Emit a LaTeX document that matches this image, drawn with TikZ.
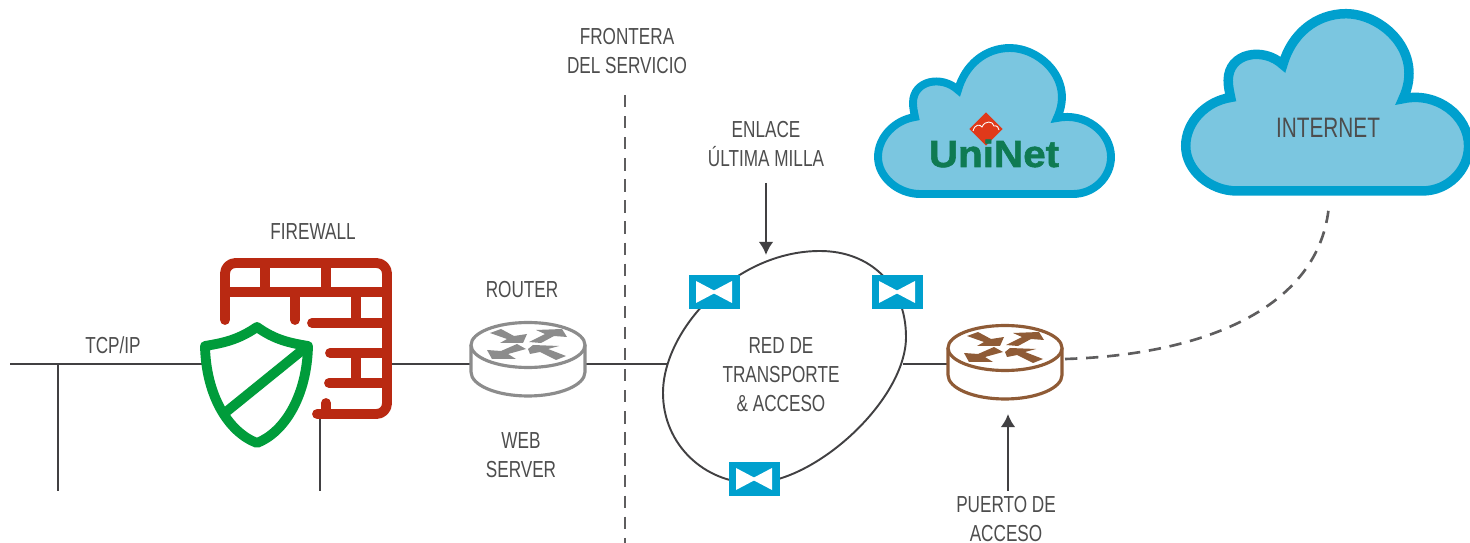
\documentclass[tikz,border=0pt]{standalone}
\usepackage{fontspec}
\setmainfont[FakeStretch=0.74]{Liberation Sans}
\newfontfamily\logofont[FakeStretch=1.07,FakeBold=1.5]{Liberation Sans}
\usetikzlibrary{arrows.meta,positioning}

\definecolor{linegray}{HTML}{414042}
\definecolor{textgray}{HTML}{4D4D4D}
\definecolor{wallred}{HTML}{B92912}
\definecolor{shieldgreen}{HTML}{009C3B}
\definecolor{cloudfill}{HTML}{7BC6E0}
\definecolor{cloudline}{HTML}{00A0CE}
\definecolor{routergray}{HTML}{8C8C8C}
\definecolor{routerbrown}{HTML}{8F5B36}
\definecolor{logogreen}{HTML}{0F7A52}
\definecolor{logored}{HTML}{E0391A}

\tikzset{
  label/.style = {text = textgray, align = center, font = \fontsize{13.2}{16.5}\selectfont, inner sep = 0pt},
  wire/.style = {draw = linegray, line width = 1.6pt},
  pointer/.style = {wire, -{Latex[length = 7.5pt, width = 8.5pt]}},
  dashwire/.style = {draw = linegray!85, line width = 1.5pt, dash pattern = on 7pt off 5pt},
  wall/.style = {draw = wallred, line width = 5.6pt, line cap = round, line join = round},
  gate/.style = {fill = cloudline, minimum width = 1.02cm, minimum height = 0.7cm, inner sep = 0pt,
    path picture = {\fill[white] (path picture bounding box.center) ++(-18,-11) -- ++(18,9.5) -- ++(18,-9.5) -- ++(0,22) -- ++(-18,-9.5) -- ++(-18,9.5) -- cycle;}},
  cloudicon/.pic = {
    \path[draw = cloudline, fill = cloudfill] (50,154) -- (203,154)
      .. controls (224,154) and (241,137) .. (241,117)
      .. controls (241,92) and (215,72) .. (187,78)
      .. controls (205,40) and (170,8) .. (140,8)
      .. controls (115,8) and (95,25) .. (88,50)
      .. controls (72,35) and (43,40) .. (43,63)
      .. controls (43,68) and (44,72) .. (45,77)
      .. controls (25,80) and (8,97) .. (8,117)
      .. controls (8,137) and (28,154) .. (50,154) -- cycle;
  },
  routericon/.pic = {
    \path[draw = #1, fill = white, line width = 1.8pt] (-57,0) -- (-57,27) arc[start angle = 180, end angle = 0, x radius = 57, y radius = 24] -- (57,0);
    \path[draw = #1, fill = white, line width = 1.8pt] (0,0) ellipse[x radius = 57, y radius = 22.5];
    \fill[#1] (-38,-12) -- (-27,-16) -- (-14,-9) -- (-1,-11) -- (-5,-2) -- (-28,-2) -- (-21,-6) -- cycle;
    \fill[#1] (1,-3) -- (17,-11) -- (8,-15) -- (34,-16) -- (39,-8) -- (26,-9) -- (13,-2) -- cycle;
    \fill[#1] (-2,4) -- (-20,9) -- (-12,14) -- (-36,14) -- (-41,5) -- (-27,6) -- (-11,-1) -- cycle;
    \fill[#1] (0,4) -- (5,0) -- (31,1) -- (20,4) -- (38,11) -- (28,15) -- (12,7) -- (2,9) -- cycle;
  },
}

\begin{document}
\begin{tikzpicture}[x = 0.02cm, y = -0.02cm]
\useasboundingbox (0,0) rectangle (1470,543);

% anchor points of the wires
\coordinate (lanW) at (10,364);
\coordinate (lanE) at (205,364);
\coordinate (tapA) at (58,364);
\coordinate (tapAend) at (58,491);
\coordinate (tapB) at (320,414);
\coordinate (tapBend) at (320,491);
\coordinate (wallE) at (390,364);
\coordinate (routerW) at (470,364);
\coordinate (routerE) at (586,364);
\coordinate (netW) at (668,364);
\coordinate (netE) at (903,364);
\coordinate (accessW) at (947,364);
\coordinate (accessE) at (1065,359);
\coordinate (inetS) at (1329,205);
\coordinate (borderN) at (625,95);
\coordinate (borderS) at (625,543);
\coordinate (linkN) at (766,183);
\coordinate (linkS) at (766,255);
\coordinate (portS) at (1008,491);
\coordinate (portN) at (1008,414);

\path[wire] (lanW) -- (lanE);
\path[wire] (tapA) -- (tapAend);
\path[wire] (tapB) -- (tapBend);
\path[wire] (wallE) -- (routerW);
\path[wire] (routerE) -- (netW);
\path[wire] (netE) -- (accessW);
\path[dashwire] (borderN) -- (borderS);
\path[dashwire] (accessE) .. controls (1200,355) and (1320,310) .. (inetS);

% firewall
\path[wall, rounded corners = 6pt] (225,320) -- (225,263) -- (387,263) -- (387,414) -- (317,414);
\path[wall] (225,292) -- (387,292);
\path[wall] (265,263) -- (265,292);
\path[wall] (326,263) -- (326,292);
\path[wall] (295,292) -- (295,320);
\path[wall] (356,292) -- (356,323);
\path[wall] (312,323) -- (387,323);
\path[wall] (330,353) -- (387,353);
\path[wall] (356,353) -- (356,383);
\path[wall] (329,383) -- (387,383);
\path[wall] (326,403) -- (326,414);

% shield
\path[draw = shieldgreen, fill = white, line width = 5.6pt, line join = round] (257,327)
  .. controls (275,340) and (290,343) .. (308,346)
  .. controls (307,395) and (285,432) .. (257,443)
  .. controls (228,432) and (206,395) .. (205,346)
  .. controls (223,343) and (238,340) .. (257,327) -- cycle;
\path[draw = shieldgreen, line width = 5.6pt] (226,412) -- (305,348);

% routers
\pic at (528,345) {routericon = routergray};
\pic at (1005,348) {routericon = routerbrown};

% transport network
\path[draw = linegray, line width = 1.1pt] (820,251)
  .. controls (870,251) and (906,285) .. (906,337)
  .. controls (906,400) and (815,483) .. (753,483)
  .. controls (705,483) and (663,445) .. (663,393)
  .. controls (663,330) and (735,251) .. (820,251) -- cycle;
\node[gate] (gateA) at (714,292) {};
\node[gate] (gateB) at (897,292) {};
\node[gate] (gateC) at (754,479) {};

% clouds
\pic[line width = 4.5pt] at (870,40) {cloudicon};
\pic[line width = 5.4pt, scale = 1.214] at (1176,4) {cloudicon};

% logo
\node[fill = logored, minimum size = 0.47cm, inner sep = 0pt, rotate = 45] (logoMark) at (986,129) {};
\path[draw = white, line width = 0.5pt] (973,131) .. controls (975,124) and (980,124) .. (982,127) .. controls (985,120) and (993,121) .. (994,126) .. controls (997,125) and (999,128) .. (999,130);
\node[font = \logofont\bfseries\fontsize{21.5}{22}\selectfont, text = logogreen, inner sep = 0pt, anchor = base] (logoText) at (994,167) {UniNet};

\node[label] (tcpLabel) at (113,345) {TCP/IP};
\node[label] (wallLabel) at (313,232) {FIREWALL};
\node[label] (routerLabel) at (522,290) {ROUTER};
\node[label] (webLabel) at (521,455) {WEB\\SERVER};
\node[label] (borderLabel) at (627,51) {FRONTERA\\DEL SERVICIO};
\node[label] (linkLabel) at (766,144) {ENLACE\\ÚLTIMA MILLA};
\node[label] (netLabel) at (781,375) {RED DE\\TRANSPORTE\\\& ACCESO};
\node[label] (portLabel) at (1006,519) {PUERTO DE\\ACCESO};
\node[label, font = \fontsize{16}{20}\selectfont] (inetLabel) at (1328,128) {INTERNET};

% arrows to the labels
\path[pointer] (linkN) -- (linkS);
\path[pointer] (portS) -- (portN);
\end{tikzpicture}
\end{document}
